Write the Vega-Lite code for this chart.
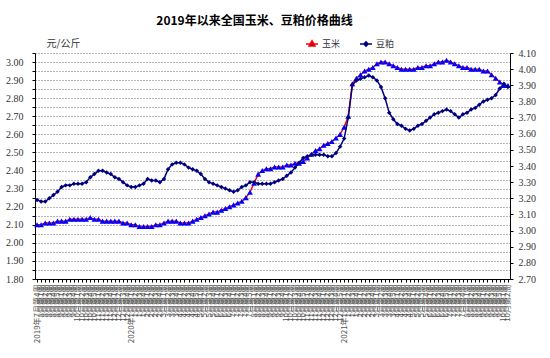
{
  "$schema": "https://vega.github.io/schema/vega-lite/v6.json",
  "width": 475,
  "height": 226,
  "autosize": {"type": "none"},
  "padding": {"left": 35, "top": 53, "right": 40, "bottom": 79},
  "background": "white",
  "title": {"text": "2019年以来全国玉米、豆粕价格曲线", "font": "Noto Sans CJK SC", "fontSize": 12, "fontWeight": "bold", "color": "#000", "anchor": "middle", "frame": "group", "dx": -18, "offset": 9},
  "config": {"view": {"stroke": null}},
  "data": {"values": [
    {"week": "2019年7月第4周", "corn": 2.10, "soymeal": 3.19},
    {"week": "2019年8月第1周", "corn": 2.10, "soymeal": 3.18},
    {"week": "2019年8月第2周", "corn": 2.11, "soymeal": 3.18},
    {"week": "2019年8月第3周", "corn": 2.11, "soymeal": 3.20},
    {"week": "2019年8月第4周", "corn": 2.11, "soymeal": 3.22},
    {"week": "2019年8月第5周", "corn": 2.12, "soymeal": 3.24},
    {"week": "2019年9月第1周", "corn": 2.12, "soymeal": 3.27},
    {"week": "2019年9月第2周", "corn": 2.12, "soymeal": 3.28},
    {"week": "2019年9月第3周", "corn": 2.13, "soymeal": 3.28},
    {"week": "2019年9月第4周", "corn": 2.13, "soymeal": 3.29},
    {"week": "2019年10月第1周", "corn": 2.13, "soymeal": 3.29},
    {"week": "2019年10月第2周", "corn": 2.13, "soymeal": 3.29},
    {"week": "2019年10月第3周", "corn": 2.13, "soymeal": 3.30},
    {"week": "2019年10月第4周", "corn": 2.14, "soymeal": 3.33},
    {"week": "2019年10月第5周", "corn": 2.13, "soymeal": 3.35},
    {"week": "2019年11月第1周", "corn": 2.13, "soymeal": 3.37},
    {"week": "2019年11月第2周", "corn": 2.12, "soymeal": 3.37},
    {"week": "2019年11月第3周", "corn": 2.12, "soymeal": 3.36},
    {"week": "2019年11月第4周", "corn": 2.12, "soymeal": 3.35},
    {"week": "2019年12月第1周", "corn": 2.12, "soymeal": 3.33},
    {"week": "2019年12月第2周", "corn": 2.12, "soymeal": 3.32},
    {"week": "2019年12月第3周", "corn": 2.11, "soymeal": 3.30},
    {"week": "2019年12月第4周", "corn": 2.11, "soymeal": 3.28},
    {"week": "2020年1月第1周", "corn": 2.10, "soymeal": 3.27},
    {"week": "2020年1月第2周", "corn": 2.10, "soymeal": 3.27},
    {"week": "2020年1月第3周", "corn": 2.09, "soymeal": 3.28},
    {"week": "2020年1月第4周", "corn": 2.09, "soymeal": 3.29},
    {"week": "2020年2月第1周", "corn": 2.09, "soymeal": 3.32},
    {"week": "2020年2月第2周", "corn": 2.09, "soymeal": 3.31},
    {"week": "2020年2月第3周", "corn": 2.10, "soymeal": 3.31},
    {"week": "2020年2月第4周", "corn": 2.10, "soymeal": 3.30},
    {"week": "2020年3月第1周", "corn": 2.11, "soymeal": 3.32},
    {"week": "2020年3月第2周", "corn": 2.12, "soymeal": 3.38},
    {"week": "2020年3月第3周", "corn": 2.12, "soymeal": 3.41},
    {"week": "2020年3月第4周", "corn": 2.12, "soymeal": 3.42},
    {"week": "2020年4月第1周", "corn": 2.11, "soymeal": 3.42},
    {"week": "2020年4月第2周", "corn": 2.11, "soymeal": 3.41},
    {"week": "2020年4月第3周", "corn": 2.11, "soymeal": 3.39},
    {"week": "2020年4月第4周", "corn": 2.12, "soymeal": 3.38},
    {"week": "2020年4月第5周", "corn": 2.13, "soymeal": 3.37},
    {"week": "2020年5月第1周", "corn": 2.14, "soymeal": 3.35},
    {"week": "2020年5月第2周", "corn": 2.15, "soymeal": 3.32},
    {"week": "2020年5月第3周", "corn": 2.16, "soymeal": 3.30},
    {"week": "2020年5月第4周", "corn": 2.17, "soymeal": 3.29},
    {"week": "2020年6月第1周", "corn": 2.17, "soymeal": 3.28},
    {"week": "2020年6月第2周", "corn": 2.18, "soymeal": 3.27},
    {"week": "2020年6月第3周", "corn": 2.19, "soymeal": 3.26},
    {"week": "2020年6月第4周", "corn": 2.20, "soymeal": 3.25},
    {"week": "2020年7月第1周", "corn": 2.21, "soymeal": 3.24},
    {"week": "2020年7月第2周", "corn": 2.22, "soymeal": 3.25},
    {"week": "2020年7月第3周", "corn": 2.23, "soymeal": 3.27},
    {"week": "2020年7月第4周", "corn": 2.25, "soymeal": 3.28},
    {"week": "2020年7月第5周", "corn": 2.28, "soymeal": 3.30},
    {"week": "2020年8月第1周", "corn": 2.33, "soymeal": 3.30},
    {"week": "2020年8月第2周", "corn": 2.38, "soymeal": 3.29},
    {"week": "2020年8月第3周", "corn": 2.40, "soymeal": 3.29},
    {"week": "2020年8月第4周", "corn": 2.41, "soymeal": 3.29},
    {"week": "2020年9月第1周", "corn": 2.41, "soymeal": 3.29},
    {"week": "2020年9月第2周", "corn": 2.42, "soymeal": 3.30},
    {"week": "2020年9月第3周", "corn": 2.42, "soymeal": 3.31},
    {"week": "2020年9月第4周", "corn": 2.42, "soymeal": 3.32},
    {"week": "2020年10月第1周", "corn": 2.43, "soymeal": 3.34},
    {"week": "2020年10月第2周", "corn": 2.43, "soymeal": 3.36},
    {"week": "2020年10月第3周", "corn": 2.44, "soymeal": 3.39},
    {"week": "2020年10月第4周", "corn": 2.44, "soymeal": 3.42},
    {"week": "2020年10月第5周", "corn": 2.45, "soymeal": 3.45},
    {"week": "2020年11月第1周", "corn": 2.47, "soymeal": 3.46},
    {"week": "2020年11月第2周", "corn": 2.49, "soymeal": 3.47},
    {"week": "2020年11月第3周", "corn": 2.51, "soymeal": 3.47},
    {"week": "2020年11月第4周", "corn": 2.52, "soymeal": 3.47},
    {"week": "2020年12月第1周", "corn": 2.54, "soymeal": 3.47},
    {"week": "2020年12月第2周", "corn": 2.55, "soymeal": 3.46},
    {"week": "2020年12月第3周", "corn": 2.56, "soymeal": 3.46},
    {"week": "2020年12月第4周", "corn": 2.58, "soymeal": 3.48},
    {"week": "2020年12月第5周", "corn": 2.60, "soymeal": 3.52},
    {"week": "2021年1月第1周", "corn": 2.64, "soymeal": 3.57},
    {"week": "2021年1月第2周", "corn": 2.70, "soymeal": 3.70},
    {"week": "2021年1月第3周", "corn": 2.88, "soymeal": 3.90},
    {"week": "2021年1月第4周", "corn": 2.91, "soymeal": 3.93},
    {"week": "2021年2月第1周", "corn": 2.93, "soymeal": 3.94},
    {"week": "2021年2月第2周", "corn": 2.95, "soymeal": 3.95},
    {"week": "2021年2月第3周", "corn": 2.96, "soymeal": 3.96},
    {"week": "2021年2月第4周", "corn": 2.97, "soymeal": 3.95},
    {"week": "2021年3月第1周", "corn": 2.99, "soymeal": 3.93},
    {"week": "2021年3月第2周", "corn": 3.00, "soymeal": 3.89},
    {"week": "2021年3月第3周", "corn": 3.00, "soymeal": 3.82},
    {"week": "2021年3月第4周", "corn": 2.99, "soymeal": 3.73},
    {"week": "2021年3月第5周", "corn": 2.98, "soymeal": 3.69},
    {"week": "2021年4月第1周", "corn": 2.97, "soymeal": 3.66},
    {"week": "2021年4月第2周", "corn": 2.96, "soymeal": 3.65},
    {"week": "2021年4月第3周", "corn": 2.96, "soymeal": 3.63},
    {"week": "2021年4月第4周", "corn": 2.96, "soymeal": 3.62},
    {"week": "2021年5月第1周", "corn": 2.96, "soymeal": 3.63},
    {"week": "2021年5月第2周", "corn": 2.97, "soymeal": 3.65},
    {"week": "2021年5月第3周", "corn": 2.97, "soymeal": 3.66},
    {"week": "2021年5月第4周", "corn": 2.98, "soymeal": 3.68},
    {"week": "2021年6月第1周", "corn": 2.98, "soymeal": 3.70},
    {"week": "2021年6月第2周", "corn": 2.99, "soymeal": 3.72},
    {"week": "2021年6月第3周", "corn": 3.00, "soymeal": 3.73},
    {"week": "2021年6月第4周", "corn": 3.00, "soymeal": 3.74},
    {"week": "2021年6月第5周", "corn": 3.01, "soymeal": 3.75},
    {"week": "2021年7月第1周", "corn": 3.00, "soymeal": 3.74},
    {"week": "2021年7月第2周", "corn": 2.99, "soymeal": 3.72},
    {"week": "2021年7月第3周", "corn": 2.98, "soymeal": 3.70},
    {"week": "2021年7月第4周", "corn": 2.97, "soymeal": 3.72},
    {"week": "2021年8月第1周", "corn": 2.97, "soymeal": 3.73},
    {"week": "2021年8月第2周", "corn": 2.96, "soymeal": 3.75},
    {"week": "2021年8月第3周", "corn": 2.96, "soymeal": 3.76},
    {"week": "2021年8月第4周", "corn": 2.96, "soymeal": 3.78},
    {"week": "2021年9月第1周", "corn": 2.95, "soymeal": 3.80},
    {"week": "2021年9月第2周", "corn": 2.95, "soymeal": 3.81},
    {"week": "2021年9月第3周", "corn": 2.93, "soymeal": 3.82},
    {"week": "2021年9月第4周", "corn": 2.91, "soymeal": 3.84},
    {"week": "2021年9月第5周", "corn": 2.89, "soymeal": 3.88},
    {"week": "2021年10月第1周", "corn": 2.87, "soymeal": 3.91},
    {"week": "2021年10月第2周", "corn": 2.87, "soymeal": 3.89}
  ]},
  "encoding": {
    "x": {
      "field": "week", "type": "ordinal", "sort": null,
      "scale": {"type": "point", "padding": 0.5},
      "axis": {
        "title": null, "labelAngle": -90, "labelFont": "Noto Sans CJK SC", "labelFontSize": 8,
        "labelColor": "#555", "labelOverlap": false, "labelPadding": 2, "tickSize": 3,
        "tickColor": "#000", "domainColor": "#000", "domainWidth": 1, "grid": false,
        "labelExpr": "(datum.value == '2019年7月第4周' || test(/年1月第1周$/, datum.value)) ? datum.value : slice(datum.value, 5)"
      }
    }
  },
  "layer": [
    {
      "encoding": {
        "y": {
          "field": "corn", "type": "quantitative",
          "scale": {"domain": [1.8, 3.05], "nice": false, "zero": false},
          "axis": {
            "orient": "left",
            "values": [1.8, 1.85, 1.9, 1.95, 2.0, 2.05, 2.1, 2.15, 2.2, 2.25, 2.3, 2.35, 2.4, 2.45, 2.5, 2.55, 2.6, 2.65, 2.7, 2.75, 2.8, 2.85, 2.9, 2.95, 3.0, 3.05],
            "format": ".2f", "labelFont": "Liberation Serif", "labelFontSize": 10, "labelColor": "#333",
            "tickSize": 3, "tickColor": "#000", "labelPadding": 9, "domainColor": "#000", "domainWidth": 1,
            "grid": true, "gridColor": "#000", "gridDash": [1, 2], "gridOpacity": 0.7, "gridWidth": 0.8,
            "title": "元/公斤", "titleAngle": 0, "titleAlign": "center", "titleBaseline": "middle",
            "titleX": 28, "titleY": -10, "titleFont": "Noto Sans CJK SC", "titleFontSize": 10,
            "titleFontWeight": "normal", "titleColor": "#333"
          }
        }
      },
      "layer": [
        {"mark": {"type": "line", "color": "#FF0000", "strokeWidth": 1.5}},
        {
          "mark": {"type": "point", "shape": "triangle-up", "filled": true, "size": 34, "opacity": 1},
          "encoding": {
            "color": {
              "datum": "玉米", "type": "nominal",
              "scale": {"domain": ["玉米"], "range": ["#0000FF"]},
              "legend": {
                "orient": "none", "legendX": 270, "legendY": -16,
                "title": null, "padding": 0, "symbolSize": 144, "symbolStrokeWidth": 1.5,
                "symbolType": "M-1,0H1M0,-0.55L0.5,0.35L-0.5,0.35Z",
                "symbolFillColor": "#0000FF", "symbolStrokeColor": "#FF0000", "symbolOpacity": 1,
                "labelOffset": 3, "labelFont": "Noto Sans CJK SC",
                "labelFontSize": 9, "labelColor": "#333"
              }
            }
          }
        }
      ]
    },
    {
      "encoding": {
        "y": {
          "field": "soymeal", "type": "quantitative",
          "scale": {"domain": [2.7, 4.1], "nice": false, "zero": false},
          "axis": {
            "orient": "right",
            "values": [2.7, 2.8, 2.9, 3.0, 3.1, 3.2, 3.3, 3.4, 3.5, 3.6, 3.7, 3.8, 3.9, 4.0, 4.1],
            "format": ".2f", "labelFont": "Liberation Serif", "labelFontSize": 10, "labelColor": "#333",
            "tickSize": 3, "tickColor": "#000", "labelPadding": 5, "domainColor": "#000", "domainWidth": 1,
            "grid": false, "title": null
          }
        }
      },
      "layer": [
        {"mark": {"type": "line", "color": "#000080", "strokeWidth": 1.5}},
        {
          "mark": {"type": "point", "shape": "diamond", "filled": true, "size": 20, "opacity": 1},
          "encoding": {
            "color": {
              "datum": "豆粕", "type": "nominal",
              "scale": {"domain": ["豆粕"], "range": ["#000080"]},
              "legend": {
                "orient": "none", "legendX": 324, "legendY": -16,
                "title": null, "padding": 0, "symbolSize": 144, "symbolStrokeWidth": 1.5,
                "symbolType": "M-1,0H1M0,-0.35L0.35,0L0,0.35L-0.35,0Z",
                "symbolFillColor": "#000080", "symbolStrokeColor": "#000080", "symbolOpacity": 1,
                "labelOffset": 3, "labelFont": "Noto Sans CJK SC",
                "labelFontSize": 9, "labelColor": "#333"
              }
            }
          }
        }
      ]
    }
  ],
  "resolve": {"scale": {"y": "independent", "color": "independent"}}
}
